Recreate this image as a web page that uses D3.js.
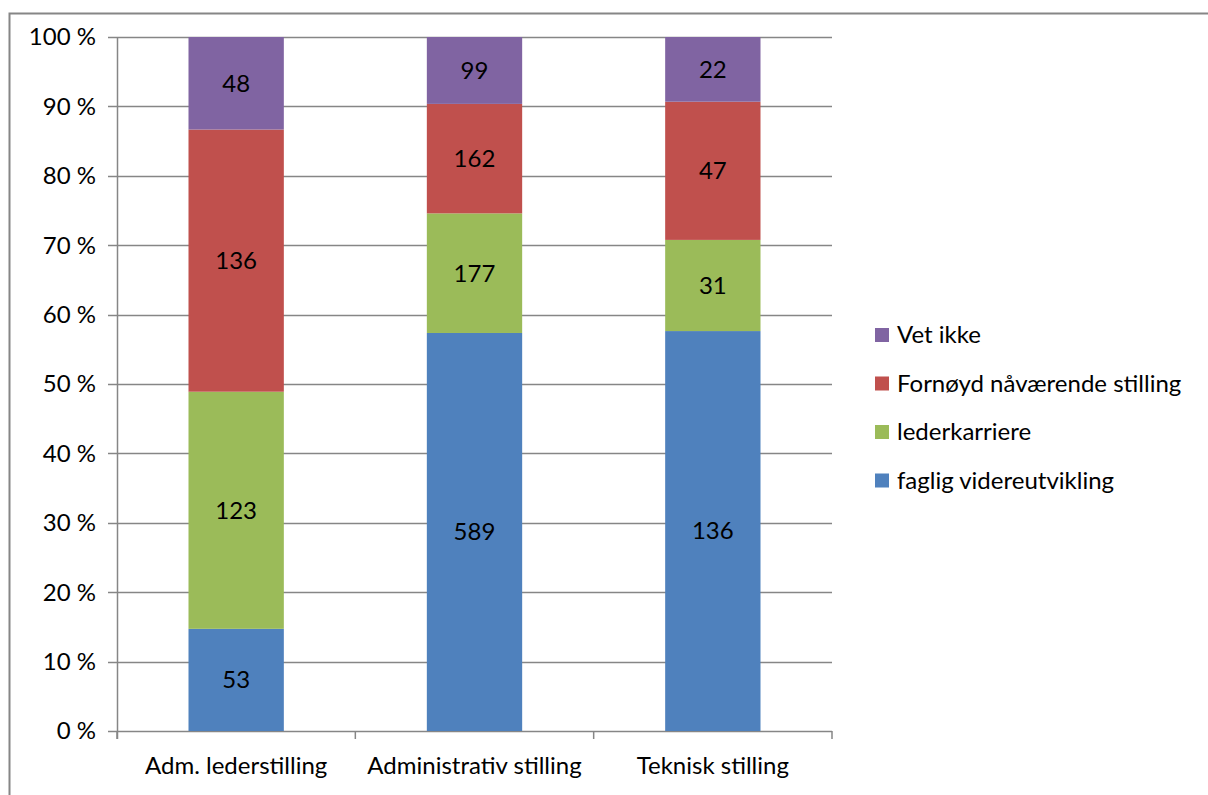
<!DOCTYPE html>
<html>
<head>
<meta charset="utf-8">
<script src="https://cdn.jsdelivr.net/npm/d3@7/dist/d3.min.js"></script>
<style>
  html, body { margin: 0; padding: 0; background: #fff; }
  svg { display: block; font-family: Lato, "Open Sans", sans-serif; }
</style>
</head>
<body>
<svg id="chart" width="1208" height="795"></svg>
<script>
// Categories and counts per answer
const categories = ["Adm. lederstilling", "Administrativ stilling", "Teknisk stilling"];
const seriesNames = ["faglig videreutvikling", "lederkarriere", "Fornøyd nåværende stilling", "Vet ikke"];
const faglig = [53, 589, 136];
const leder = [123, 177, 31];
const fornoyd = [136, 162, 47];
const vetIkke = [48, 99, 22];
const colors = ["#4F81BD", "#9BBB59", "#C0504D", "#8064A2"];
const yTicks = [0, 0.1, 0.2, 0.3, 0.4, 0.5, 0.6, 0.7, 0.8, 0.9, 1.0];

const seriesValues = [faglig, leder, fornoyd, vetIkke];
const rows = categories.map((c, i) => {
  const r = { cat: c };
  seriesNames.forEach((s, k) => r[s] = seriesValues[k][i]);
  return r;
});

const svg = d3.select("#chart");
const plotLeft = 117, plotRight = 832, plotTop = 37, plotBottom = 731;
const fontSize = 24;

// Outer chart frame
svg.append("rect").attr("x", 9.5).attr("y", 13.5).attr("width", 1230).attr("height", 820)
  .attr("fill", "none").attr("stroke", "#868686").attr("stroke-width", 2);

const x = d3.scaleBand().domain(categories).range([plotLeft, plotRight]).paddingInner(0.6).paddingOuter(0.3);
const y = d3.scaleLinear().domain([0, 1]).range([plotBottom, plotTop]);

const stack = d3.stack().keys(seriesNames).offset(d3.stackOffsetExpand);
const layers = stack(rows);

// Gridlines with outward ticks
svg.append("g").selectAll("line").data(yTicks).join("line")
  .attr("x1", plotLeft - 9).attr("x2", plotRight)
  .attr("y1", d => Math.round(y(d)) + 0.5).attr("y2", d => Math.round(y(d)) + 0.5)
  .attr("stroke", "#868686").attr("stroke-width", 1.5);

// Y tick labels
svg.append("g").selectAll("text").data(yTicks).join("text")
  .attr("x", 96).attr("y", d => y(d)).attr("dy", "0.35em")
  .attr("text-anchor", "end").attr("font-size", fontSize).attr("fill", "#000")
  .text(d => Math.round(d * 100) + " %");

// Bars
const g = svg.append("g");
layers.forEach((layer, k) => {
  g.append("g").selectAll("rect").data(layer).join("rect")
    .attr("x", d => x(d.data.cat))
    .attr("width", x.bandwidth())
    .attr("y", d => y(d[1]))
    .attr("height", d => y(d[0]) - y(d[1]))
    .attr("fill", colors[k]);
  g.append("g").selectAll("text").data(layer).join("text")
    .attr("x", d => x(d.data.cat) + x.bandwidth() / 2)
    .attr("y", d => (y(d[0]) + y(d[1])) / 2)
    .attr("dy", "0.35em").attr("text-anchor", "middle")
    .attr("font-size", fontSize).attr("fill", "#000")
    .text(d => d.data[seriesNames[k]]);
});

// Axis lines
svg.append("line").attr("x1", plotLeft + 0.5).attr("x2", plotLeft + 0.5).attr("y1", plotTop).attr("y2", plotBottom + 8)
  .attr("stroke", "#868686").attr("stroke-width", 1.5);
const step = (plotRight - plotLeft) / categories.length;
const catTicks = d3.range(categories.length + 1).map(i => plotLeft + i * step);
svg.append("g").selectAll("line").data(catTicks).join("line")
  .attr("x1", d => d).attr("x2", d => d).attr("y1", plotBottom).attr("y2", plotBottom + 8)
  .attr("stroke", "#868686").attr("stroke-width", 1.5);

// Category labels
svg.append("g").selectAll("text").data(categories).join("text")
  .attr("x", d => x(d) + x.bandwidth() / 2).attr("y", 766).attr("dy", "0.35em")
  .attr("text-anchor", "middle").attr("font-size", fontSize).attr("fill", "#000")
  .text(d => d);

// Legend (top-down: reverse stack order)
const legendItems = seriesNames.map((s, k) => ({ name: s, color: colors[k] })).reverse();
const leg = svg.append("g").selectAll("g").data(legendItems).join("g")
  .attr("transform", (d, i) => `translate(875, ${335 + i * 48.5})`);
leg.append("rect").attr("x", 0).attr("y", -7).attr("width", 14).attr("height", 14).attr("fill", d => d.color);
leg.append("text").attr("x", 22).attr("y", 0).attr("dy", "0.35em")
  .attr("font-size", fontSize).attr("fill", "#000").text(d => d.name);
</script>
</body>
</html>
